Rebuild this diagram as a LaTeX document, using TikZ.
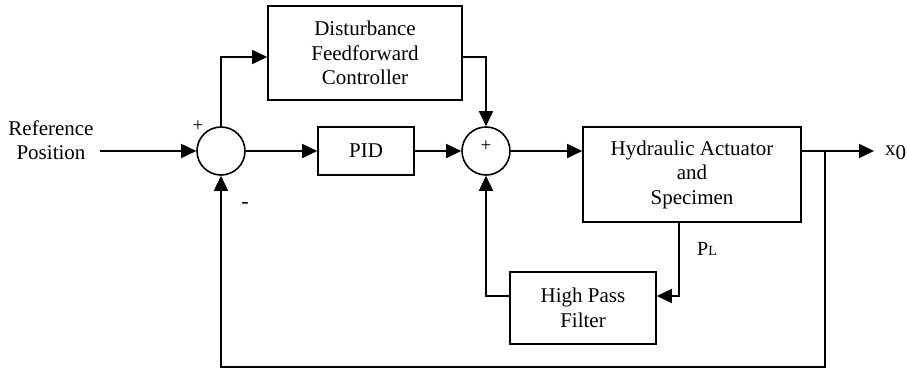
\documentclass[tikz,border=0pt]{standalone}
\usepackage{fontspec}
\setmainfont{Liberation Serif}
\usetikzlibrary{arrows.meta,calc}
\begin{document}
\begin{tikzpicture}[x=1pt,y=-1pt,
  every node/.style={font=\fontsize{21}{24.5}\selectfont},
  blk/.style={draw,line width=1.6pt,minimum width=#1,inner sep=0pt,align=center},
  sumc/.style={draw,circle,line width=1.6pt,minimum size=48pt,inner sep=0pt},
  wire/.style={line width=1.6pt},
  arr/.style={wire,-{Triangle[length=15pt,width=14pt]}},
  lbl/.style={inner sep=0pt}]
\useasboundingbox (0,0) rectangle (907,369);
\node[lbl,align=center] (ref) at (51,140) {Reference\\Position};
\coordinate (rs) at (100,151);
\node[sumc] (s1) at (221,151) {};
\node[blk=194pt,minimum height=94pt] (dfc) at (365,53) {Disturbance\\Feedforward\\Controller};
\node[blk=96pt,minimum height=48pt] (pid) at (366,151) {PID};
\node[sumc] (s2) at (486,151) {};
\node[lbl,font=\fontsize{19}{19}\selectfont] (p2) at (486,146) {+};
\node[blk=218pt,minimum height=95pt] (hyd) at (692,174.5) {Hydraulic Actuator\\and\\Specimen};
\node[blk=146pt,minimum height=72pt] (hpf) at (583,308) {High Pass\\Filter};
\coordinate (br) at (825,151);
\coordinate (out) at (874,151);
\node[lbl,anchor=west] (x0) at (885,153) {x\raisebox{-0.45ex}{0}};
\coordinate (bot) at (825,367);
\node[lbl,font=\fontsize{19}{19}\selectfont] (p1) at (198,126) {+};
\node[lbl,font=\fontsize{22}{22}\selectfont] (m1) at (245,205) {-};
\node[lbl,font=\fontsize{20}{20}\selectfont] (pl) at (707,249) {P\fontsize{14}{14}\selectfont L};
\draw[arr] (rs) -- (s1.west);
\draw[arr] (s1.north) |- ([yshift=-4pt]dfc.west);
\draw[arr] ([yshift=-4pt]dfc.east) -| (s2.north);
\draw[arr] (s1.east) -- (pid.west);
\draw[arr] (pid.east) -- (s2.west);
\draw[arr] (s2.east) -- (s2.east -| hyd.west);
\draw[arr] (hyd.east |- br) -- (out);
\draw[arr] (br) -- (bot) -| (s1.south);
\draw[arr] ([xshift=-13pt]hyd.south) |- ([yshift=12pt]hpf.east);
\draw[arr] ([yshift=12pt]hpf.west) -| (s2.south);
\end{tikzpicture}
\end{document}
